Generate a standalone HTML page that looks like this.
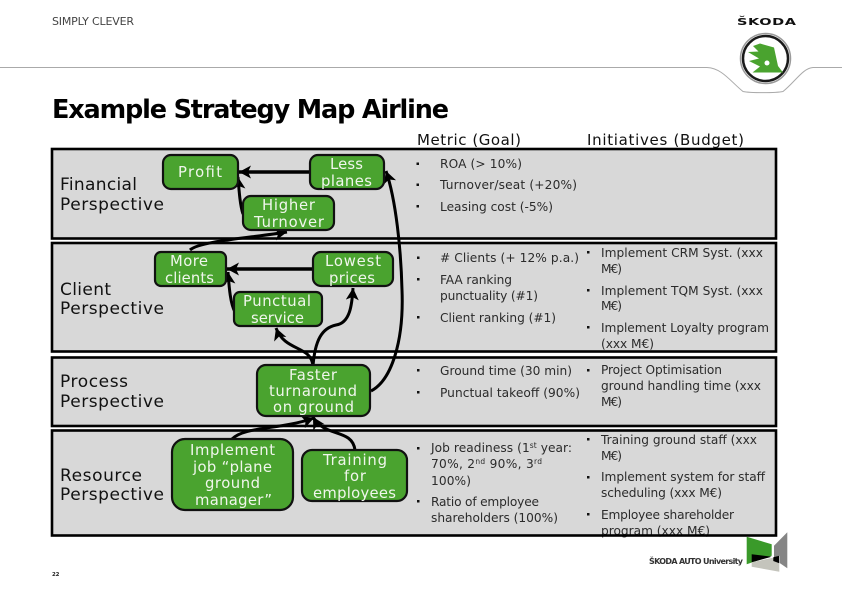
<!DOCTYPE html>
<html lang="en">
<head>
<meta charset="utf-8">
<title>Example Strategy Map Airline</title>
<style>
html,body{margin:0;padding:0;background:#fff;width:842px;height:595px;overflow:hidden}
svg{display:block}
text{font-family:"DejaVu Sans","Liberation Sans",sans-serif}
.n text{fill:#f0f6ec;font-size:14.8px}
.l{fill:#111;font-size:17px}
.s{fill:#2b2b2b;font-size:12.2px}
.h{fill:#111;font-size:15px}
.node{fill:#4aa32f;stroke:#111;stroke-width:2.2}
.panel{fill:none;stroke:#000;stroke-width:2.6}
.fill{fill:#d8d8d8}
.c{fill:none;stroke:#000;stroke-width:3}
.b{fill:#111}
</style>
</head>
<body>
<svg width="842" height="595" viewBox="0 0 842 595" xmlns="http://www.w3.org/2000/svg">
<defs>
<marker id="a" markerUnits="userSpaceOnUse" markerWidth="15" markerHeight="14" refX="12" refY="6.500" orient="auto">
<path d="M0 0L12 6.500L0 13L3 6.500Z" fill="#000"/>
</marker>
</defs>

<!-- header -->
<path d="M0 67.500H707C722 68 731 82 743 91.500C750 93 776 93 783 91.500C795 82 803 68 813 67.500H842" fill="none" stroke="#aaa" stroke-width="1"/>
<text x="52" y="25" font-size="11" fill="#444" textLength="82">SIMPLY CLEVER</text>
<text transform="translate(737,25) scale(1.45,1)" font-size="10" font-weight="bold" fill="#111" textLength="40.700">ŠKODA</text>
<circle cx="765.500" cy="58.500" r="25" fill="#fff" stroke="#9a9a9a" stroke-width="1.500"/>
<circle cx="765.500" cy="58.500" r="22.500" fill="#fff" stroke="#1a1a1a" stroke-width="2.500"/>
<path d="M760 43.500L774 47.500L778 66L783 72.500H752.500L760 66.500L749 61L759 58.500L748 52L758.500 51.500L753 46Z" fill="#4aa32f"/>
<circle cx="767" cy="63" r="2.500" fill="#fff"/>

<text x="52" y="118" font-size="25.500" font-weight="bold" fill="#000" textLength="397">Example Strategy Map Airline</text>
<text x="417" y="145" class="h" textLength="104">Metric (Goal)</text>
<text x="587" y="145" class="h" textLength="157">Initiatives (Budget)</text>

<!-- panel fills -->
<rect x="52" y="149" width="724" height="89.500" class="fill"/>
<rect x="52" y="243" width="724" height="108.500" class="fill"/>
<rect x="52" y="357.500" width="724" height="68.500" class="fill"/>
<rect x="52" y="430.500" width="724" height="105" class="fill"/>

<!-- perspective labels -->
<text x="60" y="190" class="l" textLength="77">Financial</text>
<text x="60" y="210" class="l" textLength="104">Perspective</text>
<text x="60" y="295" class="l" textLength="51">Client</text>
<text x="60" y="314" class="l" textLength="104">Perspective</text>
<text x="60" y="387" class="l" textLength="68">Process</text>
<text x="60" y="407" class="l" textLength="104">Perspective</text>
<text x="60" y="481" class="l" textLength="82">Resource</text>
<text x="60" y="500" class="l" textLength="104">Perspective</text>

<!-- metrics: financial -->
<rect x="416.500" y="162.500" width="2.500" height="2.500" class="b"/>
<rect x="416.500" y="183.500" width="2.500" height="2.500" class="b"/>
<rect x="416.500" y="205" width="2.500" height="2.500" class="b"/>
<text x="440" y="168" class="s" textLength="82">ROA (&gt; 10%)</text>
<text x="440" y="189" class="s" textLength="137">Turnover/seat (+20%)</text>
<text x="440" y="211" class="s" textLength="113">Leasing cost (-5%)</text>

<!-- metrics: client -->
<rect x="417" y="256.500" width="2.500" height="2.500" class="b"/>
<rect x="417" y="278" width="2.500" height="2.500" class="b"/>
<rect x="417" y="316" width="2.500" height="2.500" class="b"/>
<text x="440" y="262" class="s" textLength="139"># Clients (+ 12% p.a.)</text>
<text x="440" y="284" class="s" textLength="72">FAA ranking</text>
<text x="440" y="300" class="s" textLength="98">punctuality (#1)</text>
<text x="440" y="322" class="s" textLength="116">Client ranking (#1)</text>
<!-- initiatives: client -->
<rect x="587" y="251" width="2.500" height="2.500" class="b"/>
<rect x="587" y="289" width="2.500" height="2.500" class="b"/>
<rect x="587" y="326" width="2.500" height="2.500" class="b"/>
<text x="601" y="257" class="s" textLength="162">Implement CRM Syst. (xxx</text>
<text x="601" y="273" class="s" textLength="21">M€)</text>
<text x="601" y="295" class="s" textLength="162">Implement TQM Syst. (xxx</text>
<text x="601" y="310" class="s" textLength="21">M€)</text>
<text x="601" y="332" class="s" textLength="168">Implement Loyalty program</text>
<text x="601" y="348" class="s" textLength="53">(xxx M€)</text>

<!-- metrics: process -->
<rect x="417" y="369" width="2.500" height="2.500" class="b"/>
<rect x="417" y="391" width="2.500" height="2.500" class="b"/>
<text x="440" y="375" class="s" textLength="132">Ground time (30 min)</text>
<text x="440" y="397" class="s" textLength="140">Punctual takeoff (90%)</text>
<rect x="587" y="369" width="2.500" height="2.500" class="b"/>
<text x="601" y="374" class="s" textLength="121">Project Optimisation</text>
<text x="601" y="390" class="s" textLength="160">ground handling time (xxx</text>
<text x="601" y="406" class="s" textLength="21">M€)</text>

<!-- metrics: resource -->
<rect x="417" y="447" width="2.500" height="2.500" class="b"/>
<rect x="417" y="500" width="2.500" height="2.500" class="b"/>
<text x="431" y="452" class="s" textLength="141">Job readiness (1<tspan font-size="7.500" dy="-4">st</tspan><tspan dy="4"> year:</tspan></text>
<text x="431" y="468" class="s" textLength="111">70%, 2<tspan font-size="7.500" dy="-4">nd</tspan><tspan dy="4"> 90%, 3</tspan><tspan font-size="7.500" dy="-4">rd</tspan></text>
<text x="431" y="485" class="s" textLength="40">100%)</text>
<text x="431" y="506" class="s" textLength="108">Ratio of employee</text>
<text x="431" y="522" class="s" textLength="127">shareholders (100%)</text>
<rect x="587" y="438" width="2.500" height="2.500" class="b"/>
<rect x="587" y="476" width="2.500" height="2.500" class="b"/>
<rect x="587" y="513" width="2.500" height="2.500" class="b"/>
<text x="601" y="444" class="s" textLength="156">Training ground staff (xxx</text>
<text x="601" y="460" class="s" textLength="21">M€)</text>
<text x="601" y="481" class="s" textLength="164">Implement system for staff</text>
<text x="601" y="497" class="s" textLength="121">scheduling (xxx M€)</text>
<text x="601" y="519" class="s" textLength="133">Employee shareholder</text>
<text x="601" y="535" class="s" textLength="109">program (xxx M€)</text>

<!-- panel borders -->
<rect x="52" y="149" width="724" height="89.500" class="panel"/>
<rect x="52" y="243" width="724" height="108.500" class="panel"/>
<rect x="52" y="357.500" width="724" height="68.500" class="panel"/>
<rect x="52" y="430.500" width="724" height="105" class="panel"/>

<!-- connectors -->
<path d="M311 172H239" class="c" style="stroke-width:3.500" marker-end="url(#a)"/>
<path d="M243 214C240 205 239 190 238 177" class="c" marker-end="url(#a)"/>
<path d="M190 250C200 241 250 238 287 232" class="c" marker-end="url(#a)"/>
<path d="M314 269H227" class="c" style="stroke-width:3.500" marker-end="url(#a)"/>
<path d="M235 312C230 303 229 285 228 272" class="c" marker-end="url(#a)"/>
<path d="M313 366C311 345 285 352 276 328" class="c" marker-end="url(#a)"/>
<path d="M313 366C315 340 322 328 336 325C350 323 352 305 353 288" class="c" marker-end="url(#a)"/>
<path d="M371 391C392 380 404 340 402 290C401 250 396 200 386 171" class="c" marker-end="url(#a)"/>
<path d="M232 439C245 426 280 430 314 418" class="c" marker-end="url(#a)"/>
<path d="M355 450C352 428 325 438 313 417" class="c" marker-end="url(#a)"/>

<!-- nodes -->
<rect x="163" y="155" width="75" height="34" rx="8" class="node"/>
<rect x="310" y="155" width="74" height="34" rx="8" class="node"/>
<rect x="243" y="196" width="91" height="34" rx="8" class="node"/>
<rect x="155" y="252" width="71" height="34" rx="6" class="node"/>
<rect x="313" y="252" width="80" height="34" rx="8" class="node"/>
<rect x="234" y="292" width="88" height="34" rx="6" class="node"/>
<rect x="257" y="365" width="113" height="51" rx="9" class="node"/>
<rect x="172" y="439" width="121" height="71" rx="13" class="node"/>
<rect x="302" y="450" width="105" height="51" rx="10" class="node"/>

<g class="n">
<text x="178" y="177" textLength="44">Profit</text>
<text x="330" y="169" textLength="33">Less</text>
<text x="321" y="186" textLength="51">planes</text>
<text x="262" y="210" textLength="53">Higher</text>
<text x="254" y="227" textLength="70">Turnover</text>
<text x="170" y="266" textLength="38">More</text>
<text x="165" y="283" textLength="49">clients</text>
<text x="325" y="266" textLength="56">Lowest</text>
<text x="329" y="283" textLength="46">prices</text>
<text x="243" y="306" textLength="68">Punctual</text>
<text x="251" y="323" textLength="53">service</text>
<text x="289" y="380" textLength="48">Faster</text>
<text x="269" y="396" textLength="88">turnaround</text>
<text x="273" y="412" textLength="81">on ground</text>
<text x="190" y="455" textLength="85">Implement</text>
<text x="193" y="472" textLength="79">job “plane</text>
<text x="205" y="488" textLength="55">ground</text>
<text x="195" y="505" textLength="77">manager”</text>
<text x="323" y="465" textLength="64">Training</text>
<text x="344" y="481" textLength="22">for</text>
<text x="313" y="498" textLength="83">employees</text>
</g>

<!-- footer -->
<text x="52" y="576" font-size="5.500" font-weight="bold" fill="#222" textLength="7.500">22</text>
<text x="649" y="564" font-size="8" font-weight="bold" fill="#333" textLength="94">ŠKODA AUTO University</text>
<path d="M746.700 536.700L771.700 544.300V555.700L746.700 564.300Z" fill="#3a9a2a"/>
<path d="M751.700 554.300L771.700 556.700L751.700 562.300Z" fill="#000"/>
<path d="M751.700 562.300L772.700 557.700L779.300 563.300V571.700L751.700 566.700Z" fill="#c4c4bc"/>
<path d="M774 545.700L787.300 532.300V568.300L780 563.300V555.700L774 557.300Z" fill="#858585"/>
<path d="M773.300 557.300L779.300 555.700V563.300L773.300 561Z" fill="#000"/>
</svg>
</body>
</html>
